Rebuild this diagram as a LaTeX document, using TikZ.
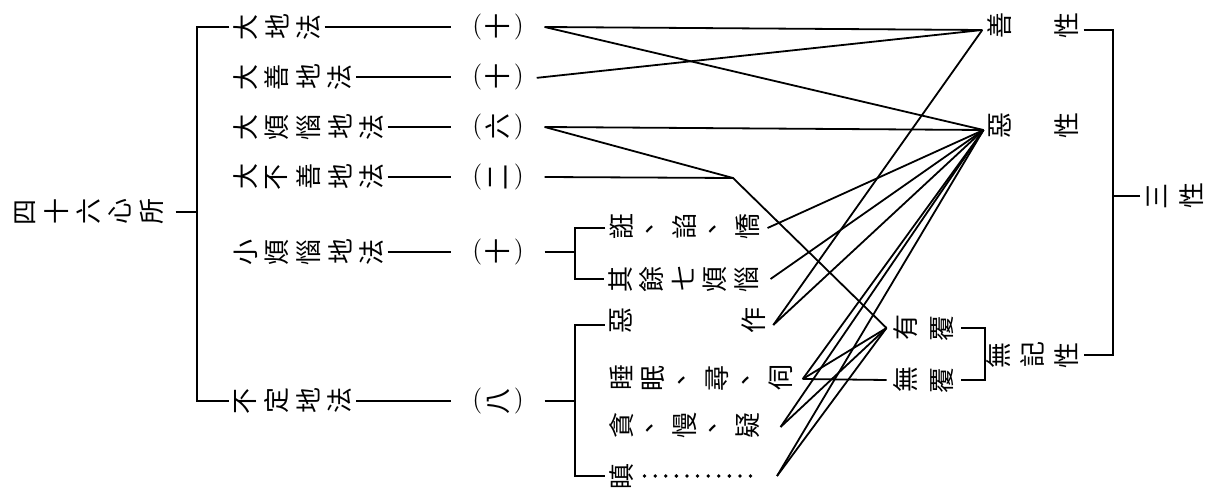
\documentclass[tikz,border=0pt]{standalone}
\usepackage{fontspec}
\usepackage{graphicx}
\newfontfamily\cjk{Noto Sans CJK TC}
\newcommand\vtw{15.75pt}
\def\vtloop#1{\ifx#1\vtend\else\makebox[\vtw]{\rotatebox[origin=c]{90}{#1}}\expandafter\vtloop\fi}
\newcommand\vt[2][15.75pt]{\def\vtw{#1}\vtloop#2\vtend}
\newcommand\pn[1]{\raisebox{1.6pt}{\rmfamily(}\makebox[15.75pt]{\rotatebox[origin=c]{90}{#1}}\raisebox{1.6pt}{\rmfamily)}}
\begin{document}
\begin{tikzpicture}[x=0.5pt,y=-0.5pt,
  lbl/.style={inner sep=0pt, anchor=west, font=\cjk\fontsize{13pt}{15pt}\selectfont},
  pnode/.style={inner sep=0pt, outer sep=10.5pt, font=\cjk\fontsize{13pt}{15pt}\selectfont},
  ln/.style={line width=0.9pt},
  leader/.style={line width=1.9pt, line cap=round, dash pattern=on 0pt off 5.3pt}]
\useasboundingbox (0,0) rectangle (1208,497);
% left group
\node[lbl] (root) at (9.25,212) {\vt{四十六心所}};
\node[lbl] (L1) at (229.25,27) {\vt{大地法}};
\node[lbl] (L2) at (229.25,77) {\vt{大善地法}};
\node[lbl] (L3) at (229.25,127) {\vt{大煩惱地法}};
\node[lbl] (L4) at (229.25,177) {\vt{大不善地法}};
\node[lbl] (L5) at (229.25,252) {\vt{小煩惱地法}};
\node[lbl] (L6) at (229.25,401) {\vt{不定地法}};
\node[pnode] (P1) at (498,27) {\pn{十}};
\node[pnode] (P2) at (498,77) {\pn{十}};
\node[pnode] (P3) at (498,127) {\pn{六}};
\node[pnode] (P4) at (498,177) {\pn{二}};
\node[pnode] (P5) at (498,252) {\pn{十}};
\node[pnode] (P6) at (498,401) {\pn{八}};
\coordinate (bx) at (197,0);
\draw[ln] ([xshift=4pt]root.east) -- (root.east -| bx);
\draw[ln] (L1.west) -- (L1.west -| bx) -- (L6.west -| bx) -- (L6.west);
\foreach \i in {1,...,6}{\draw[ln] (L\i.east) -- (P\i.west);}
% sub items
\node[lbl] (S1) at (605.25,228) {\vt{誑、諂、憍}};
\node[lbl] (S2) at (604.25,279) {\vt{其餘七煩惱}};
\node[lbl] (U1) at (604.5,325) {\vt[16.5pt]{惡　　　作}};
\node[lbl] (U2) at (605.1,379) {\vt[15.9pt]{睡眠、尋、伺}};
\node[lbl] (U3) at (605.25,427) {\vt{貪、慢、疑}};
\node[lbl] (U4) at (605.25,476) {\vt{瞋}};
\coordinate (sx) at (575,0);
\draw[ln] (P5.east) -- (P5.east -| sx);
\draw[ln] (S1.west) -- (S1.west -| sx) -- (S2.west -| sx) -- (S2.west);
\draw[ln] (P6.east) -- (P6.east -| sx);
\draw[ln] (U1.west) -- (U1.west -| sx) -- (U4.west -| sx) -- (U4.west);
\coordinate (dz) at (777,476);
\draw[leader] ([xshift=3.5pt]U4.east) -- ([xshift=-8.5pt]dz);
% right group
\node[lbl] (G) at (982.25,30) {\vt[16.75pt]{善　性}};
\node[lbl] (E) at (983.5,130) {\vt[16.5pt]{惡　性}};
\node[lbl] (W) at (981,355) {\vt[17pt]{無記性}};
\node[lbl] (T) at (1140,196) {\vt[17pt]{三性}};
\node[lbl] (Y) at (886.5,328) {\vt[18.5pt]{有覆}};
\node[lbl] (N) at (886.5,380) {\vt[18.5pt]{無覆}};
\coordinate (rx) at (1113,0);
\draw[ln] (G.east) -- (G.east -| rx) -- (W.east -| rx) -- (W.east);
\draw[ln] (T.west) -- (T.west -| rx);
\coordinate (yx) at (985,0);
\draw[ln] (Y.east) -- (Y.east -| yx) -- (N.east -| yx) -- (N.east);
% connectors
\coordinate (k) at (733,178);
\draw[ln] (P1.east) -- (G.west);
\draw[ln] (P1.east) -- (E.west);
\draw[ln, shorten <=-4pt] (P2.east) -- (G.west);
\draw[ln] (P3.east) -- (E.west);
\draw[ln] (P3.east) -- (k) -- (Y.west);
\draw[ln] (P4.east) -- (k);
\draw[ln] ([xshift=2pt]S1.east) -- (E.west);
\draw[ln] ([xshift=4pt]S2.east) -- (E.west);
\draw[ln] ([xshift=1.5pt]U1.east) -- (G.west);
\draw[ln] ([xshift=1.5pt]U1.east) -- (E.west);
\draw[ln] ([xshift=3pt]U2.east) -- (E.west);
\draw[ln] ([xshift=3pt]U2.east) -- (N.west);
\draw[ln] ([xshift=3pt]U2.east) -- (Y.west);
\draw[ln] ([xshift=8.5pt]U3.east) -- (E.west);
\draw[ln] ([xshift=8.5pt]U3.east) -- (Y.west);
\draw[ln] (dz) -- (E.west);
\draw[ln] (dz) -- (Y.west);
\end{tikzpicture}
\end{document}
